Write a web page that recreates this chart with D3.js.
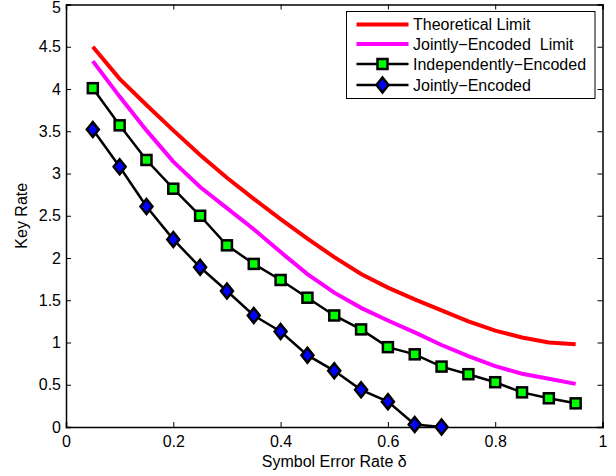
<!DOCTYPE html>
<html>
<head>
<meta charset="utf-8">
<script src="https://cdn.jsdelivr.net/npm/d3@7"></script>
<style>
  html, body { margin: 0; padding: 0; background: #fff; }
  svg { display: block; }
  text { font-family: "Liberation Sans", Arial, Helvetica, sans-serif; fill: #000; }
</style>
</head>
<body>
<svg id="chart" width="616" height="476"></svg>
<script>
// Symbol error rate (x) for each curve
const deltaFull = [0.05, 0.10, 0.15, 0.20, 0.25, 0.30, 0.35, 0.40, 0.45, 0.50,
                   0.55, 0.60, 0.65, 0.70, 0.75, 0.80, 0.85, 0.90, 0.95];
const deltaJoint = [0.05, 0.10, 0.15, 0.20, 0.25, 0.30, 0.35, 0.40, 0.45, 0.50,
                    0.55, 0.60, 0.65, 0.70];

// Key rates
const theoreticalLimit = [4.50, 4.12, 3.81, 3.51, 3.22, 2.95, 2.70, 2.46, 2.23, 2.01,
                          1.81, 1.65, 1.51, 1.38, 1.25, 1.14, 1.06, 1.00, 0.98];
const jointLimit = [4.33, 3.91, 3.51, 3.14, 2.84, 2.59, 2.34, 2.07, 1.81, 1.59,
                    1.41, 1.26, 1.12, 0.97, 0.84, 0.72, 0.63, 0.57, 0.51];
const independentlyEncoded = [4.01, 3.57, 3.16, 2.82, 2.50, 2.15, 1.93, 1.74, 1.53, 1.32,
                              1.155, 0.945, 0.86, 0.715, 0.625, 0.53, 0.41, 0.34, 0.28];
const jointlyEncoded = [3.52, 3.08, 2.61, 2.22, 1.89, 1.61, 1.32, 1.13, 0.85, 0.665,
                        0.44, 0.30, 0.03, 0.00];

const xTicks = [0, 0.2, 0.4, 0.6, 0.8, 1];
const yTicks = [0, 0.5, 1, 1.5, 2, 2.5, 3, 3.5, 4, 4.5, 5];
const legendLabels = ["Theoretical Limit", "Jointly\u2212Encoded  Limit",
                      "Independently\u2212Encoded", "Jointly\u2212Encoded"];

const svg = d3.select("#chart");
const plotLeft = 66, plotRight = 602.5, plotTop = 4.5, plotBottom = 427;
const fontSize = 16;

const x = d3.scaleLinear().domain([0, 1]).range([plotLeft, plotRight]);
const y = d3.scaleLinear().domain([0, 5]).range([plotBottom, plotTop]);

const fmt = d => d3.format("")(d);

// Axes: ticks point inward on all four sides
const tickLen = 5;
const gx = svg.append("g").attr("transform", `translate(0,${plotBottom})`)
  .call(d3.axisBottom(x).tickValues(xTicks).tickSize(-tickLen).tickPadding(9).tickFormat(fmt));
const gxTop = svg.append("g").attr("transform", `translate(0,${plotTop})`)
  .call(d3.axisTop(x).tickValues(xTicks).tickSize(-tickLen).tickFormat(""));
const gy = svg.append("g").attr("transform", `translate(${plotLeft},0)`)
  .call(d3.axisLeft(y).tickValues(yTicks).tickSize(-tickLen).tickPadding(5).tickFormat(fmt));
const gyRight = svg.append("g").attr("transform", `translate(${plotRight},0)`)
  .call(d3.axisRight(y).tickValues(yTicks).tickSize(-tickLen).tickFormat(""));

[gx, gxTop, gy, gyRight].forEach(g => {
  g.select(".domain").attr("stroke", "#000").attr("stroke-width", 1.5);
  g.selectAll(".tick line").attr("stroke", "#000").attr("stroke-width", 1);
  g.selectAll(".tick text").attr("font-size", fontSize)
    .attr("font-family", "\"Liberation Sans\", Arial, sans-serif").attr("fill", "#000");
});
// keep the topmost y label inside the frame
gy.selectAll(".tick text").filter(d => d === 5).attr("dy", "0.5em");

// Axis titles
svg.append("text").attr("x", (plotLeft + plotRight) / 2).attr("y", 467)
  .attr("text-anchor", "middle").attr("font-size", fontSize).text("Symbol Error Rate \u03b4");
svg.append("text")
  .attr("transform", `translate(27,${(plotTop + plotBottom) / 2}) rotate(-90)`)
  .attr("text-anchor", "middle").attr("font-size", fontSize).text("Key Rate");

const line = d3.line().x(d => x(d[0])).y(d => y(d[1]));
const zipped = (xs, ys) => xs.map((v, i) => [v, ys[i]]);

const redData = zipped(deltaFull, theoreticalLimit);
const magData = zipped(deltaFull, jointLimit);
const sqData = zipped(deltaFull, independentlyEncoded);
const dmData = zipped(deltaJoint, jointlyEncoded);

svg.append("path").datum(redData).attr("d", line)
  .attr("fill", "none").attr("stroke", "#ff0000").attr("stroke-width", 4);
svg.append("path").datum(magData).attr("d", line)
  .attr("fill", "none").attr("stroke", "#ff00ff").attr("stroke-width", 4);

svg.append("path").datum(sqData).attr("d", line)
  .attr("fill", "none").attr("stroke", "#000").attr("stroke-width", 2.5);
const sq = 10;
svg.append("g").selectAll("rect").data(sqData).join("rect")
  .attr("x", d => x(d[0]) - sq / 2).attr("y", d => y(d[1]) - sq / 2)
  .attr("width", sq).attr("height", sq)
  .attr("fill", "#00ff00").attr("stroke", "#000").attr("stroke-width", 2.5);

svg.append("path").datum(dmData).attr("d", line)
  .attr("fill", "none").attr("stroke", "#000").attr("stroke-width", 2.5);
const diamond = (cx, cy) => `M${cx},${cy - 7.5}L${cx + 6},${cy}L${cx},${cy + 7.5}L${cx - 6},${cy}Z`;
svg.append("g").selectAll("path").data(dmData).join("path")
  .attr("d", d => diamond(x(d[0]), y(d[1])))
  .attr("fill", "#0000ff").attr("stroke", "#000").attr("stroke-width", 2.5)
  .attr("stroke-linejoin", "miter");

// Legend
const lg = svg.append("g");
lg.append("rect").attr("x", 346.5).attr("y", 11.5).attr("width", 248.5).attr("height", 87)
  .attr("fill", "#fff").attr("stroke", "#000").attr("stroke-width", 1);
const rowY = [24.5, 44, 64, 85];
const lx0 = 356.5, lx1 = 408.5, lxm = (lx0 + lx1) / 2;
const styles = [
  { color: "#ff0000", width: 4, marker: null },
  { color: "#ff00ff", width: 4, marker: null },
  { color: "#000", width: 2.5, marker: "square" },
  { color: "#000", width: 2.5, marker: "diamond" }
];
legendLabels.forEach((label, i) => {
  const ry = rowY[i];
  const s = styles[i];
  lg.append("line").attr("x1", lx0).attr("x2", lx1).attr("y1", ry).attr("y2", ry)
    .attr("stroke", s.color).attr("stroke-width", s.width);
  if (s.marker === "square") {
    lg.append("rect").attr("x", lxm - sq / 2).attr("y", ry - sq / 2)
      .attr("width", sq).attr("height", sq)
      .attr("fill", "#00ff00").attr("stroke", "#000").attr("stroke-width", 2.5);
  } else if (s.marker === "diamond") {
    lg.append("path").attr("d", diamond(lxm, ry))
      .attr("fill", "#0000ff").attr("stroke", "#000").attr("stroke-width", 2.5);
  }
  lg.append("text").attr("x", 413).attr("y", ry).attr("dy", "0.35em")
    .attr("font-size", fontSize).style("white-space", "pre")
    .text(label);
});
</script>
</body>
</html>
